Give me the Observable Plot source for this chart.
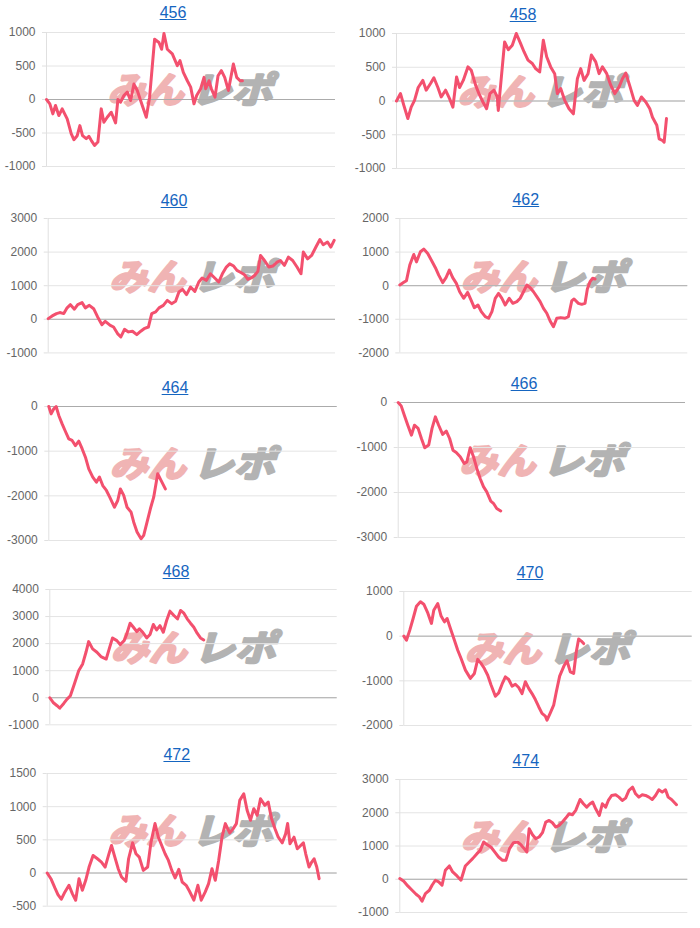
<!DOCTYPE html>
<html>
<head>
<meta charset="utf-8">
<script src="https://cdn.jsdelivr.net/npm/d3@7"></script>
<script src="https://cdn.jsdelivr.net/npm/@observablehq/plot@0.6"></script>
<style>
  html, body { margin: 0; padding: 0; background: #fff; }
  #root { position: relative; width: 700px; height: 928px; overflow: hidden; background: #fff; }
  .ttl { position: absolute; transform: translate(-50%, -50%); font: 16px "Liberation Sans", Arial, Helvetica, sans-serif;
         color: #1565c0; text-decoration: underline; line-height: 1; white-space: nowrap; }
  .pl { position: absolute; }
</style>
</head>
<body>
<div id="root"></div>
<script>
// Machine numbers (panel titles)
const machines = ["456", "458", "460", "462", "464", "466", "468", "470", "472", "474"];

// x = game progress (arbitrary units, full run = 866), v = coin difference
const g456 = [0,10,19,27,37,47,62,74,82,92,100,108,119,127,134,144,154,164,172,182,194,207,214,222,232,242,252,262,272,287,299,309,324,337,345,352,362,377,384,392,400,410,422,432,442,450,462,472,477,487,494,505,514,524,534,545,560,570,580,587];
const v456 = [0,-65,-215,-90,-240,-140,-290,-510,-600,-540,-390,-540,-585,-550,-610,-685,-635,-140,-340,-265,-190,-350,0,-40,60,110,-15,230,135,-90,-265,35,900,850,750,985,750,680,600,505,580,405,280,185,-65,60,160,330,160,280,160,35,355,430,330,135,530,330,280,280];

const g458 = [0,12,22,34,44,54,65,79,89,102,112,124,134,147,159,169,180,189,200,214,224,237,247,259,270,280,292,302,305,324,335,347,359,372,382,394,407,417,429,440,450,462,474,482,492,504,517,530,542,552,562,574,584,597,607,617,630,642,654,667,677,687,700,712,722,734,747,759,767,780,787,797,802,809];
const v458 = [0,110,-65,-260,-90,10,200,305,160,260,345,200,60,160,35,-90,355,200,305,505,455,235,110,-15,-115,110,160,60,-140,875,760,825,1000,850,730,605,555,480,430,900,655,505,405,110,185,10,-115,-190,330,480,305,405,680,580,405,505,405,235,110,210,330,415,210,10,-65,60,-15,-115,-240,-360,-560,-585,-610,-260];

const g460 = [0,12,25,35,47,57,67,79,89,102,112,124,137,149,162,172,187,197,209,219,230,242,254,267,279,289,302,312,324,334,347,359,372,384,394,405,417,429,442,454,464,477,489,502,514,525,537,547,559,569,582,592,602,612,622,632,640,652,665,677,690,700,712,724,737,750,762,769,782,794,807,819,829,842,852,862];
const v460 = [20,100,170,200,170,340,435,300,435,495,340,415,315,70,-160,-60,-180,-230,-425,-525,-300,-375,-355,-455,-355,-280,-230,170,220,340,415,565,465,535,810,890,735,960,830,1110,1230,1160,1355,1230,1110,1355,1555,1650,1585,1455,1385,1325,1190,1230,1305,1425,1900,1750,1555,1585,1700,1750,1605,1850,1750,1555,1355,2000,1800,1900,2150,2375,2220,2300,2150,2350];

const g462 = [0,12,20,30,42,50,62,72,84,95,107,117,129,139,149,159,170,180,192,204,214,224,235,245,257,267,277,287,297,307,317,329,340,352,362,372,382,392,402,412,422,432,442,452,462,472,484,497,507,517,524,537,547,557,564,572,580,587];
const v462 = [20,100,150,615,930,710,1010,1090,960,760,535,315,90,240,465,240,70,-180,-375,-200,-425,-655,-575,-770,-920,-970,-770,-375,-230,-375,-575,-375,-525,-475,-375,-180,20,-60,-180,-325,-475,-675,-820,-1050,-1220,-970,-950,-970,-920,-455,-395,-525,-555,-525,-100,120,220,200];

const g464 = [0,7,15,22,30,40,50,60,70,80,90,100,110,120,132,143,152,162,173,183,197,207,215,225,235,247,255,265,277,285,295,305,315,327,337,350];
const v464 = [0,-165,-50,0,-200,-390,-560,-725,-760,-875,-775,-945,-1135,-1395,-1580,-1695,-1580,-1770,-1880,-2030,-2255,-2105,-1845,-1990,-2255,-2365,-2590,-2810,-2960,-2885,-2590,-2290,-2030,-1505,-1655,-1845];

const g466 = [0,9,19,29,40,49,60,70,80,92,102,112,122,134,145,155,165,175,187,199,207,217,227,237,247,257,267,279,287,297,309];
const v466 = [0,-75,-295,-505,-725,-505,-575,-800,-1005,-945,-575,-320,-505,-710,-635,-800,-1060,-1110,-1205,-1355,-1320,-1005,-1205,-1465,-1690,-1870,-1985,-2190,-2240,-2355,-2410];

const g468 = [0,10,22,30,42,52,62,74,87,99,109,117,129,142,154,170,179,189,202,212,224,232,242,252,262,270,280,292,302,312,322,332,342,352,362,374,385,394,404,414,424,434,444,454,464];
const v468 = [0,-175,-295,-385,-210,-50,75,505,1000,1250,1680,2075,1805,1680,1520,1430,1805,2210,2110,1965,2110,2360,2755,2605,2445,2545,2420,2210,2335,2705,2505,2665,2420,2855,3200,3040,2915,3225,3125,2915,2755,2605,2385,2210,2135];

const g470 = [0,8,18,28,38,50,60,72,83,90,102,112,122,130,140,152,162,172,185,200,212,222,232,242,252,262,275,285,295,305,315,325,335,345,355,365,375,385,395,405,415,425,430,440,450,458,468,482,490,500,510,518,525,533,540];
const v470 = [0,-90,135,395,670,770,715,520,285,580,730,450,320,395,170,-90,-315,-500,-760,-945,-835,-520,-610,-725,-875,-1095,-1345,-1270,-1075,-910,-970,-1120,-1075,-1150,-1285,-1020,-1170,-1285,-1420,-1580,-1730,-1790,-1880,-1715,-1545,-1245,-895,-650,-550,-800,-835,-350,-65,-110,-165];

const g472 = [0,12,23,32,42,53,65,75,85,95,105,115,125,137,150,162,173,183,192,202,212,222,235,243,255,265,275,287,300,310,322,332,342,352,362,372,382,393,403,415,425,438,450,460,472,482,492,502,512,522,532,545,555,565,575,587,597,607,617,627,637,650,660,670,680,690,702,712,718,725,737,747,757,765,772,782,790,797,805,812];
const v472 = [0,-95,-225,-325,-395,-285,-185,-310,-410,-85,-260,-110,90,265,215,165,90,265,415,240,65,-60,-125,215,455,290,240,40,90,465,745,540,415,290,190,40,-75,55,-135,-185,-275,-410,-185,-410,-285,-160,65,-110,190,540,745,605,665,745,1095,1195,945,795,970,870,1120,1020,1070,820,670,540,455,590,745,440,540,365,415,455,290,90,165,215,90,-85];

const g474 = [0,12,24,37,49,59,67,77,89,97,107,117,127,137,149,159,172,184,197,209,219,232,242,252,262,274,287,297,309,319,330,342,354,364,374,382,389,399,409,419,429,439,449,459,469,479,489,499,509,519,529,542,552,562,572,580,589,600,609,619,627,637,649,659,669,679,689,700,709,719,729,739,749,759,769,779,789,799,807,817,832];
const v474 = [20,-60,-200,-330,-450,-530,-660,-430,-330,-180,-30,-80,-180,270,400,220,100,-30,400,520,620,770,870,1120,1040,970,800,670,570,570,920,1100,1120,1040,920,820,1520,1340,1220,1270,1400,1720,1770,1700,1570,1620,1720,1840,1970,1940,2070,2400,2270,2170,2270,2320,2120,1920,2270,2170,2370,2520,2540,2470,2370,2440,2670,2770,2570,2470,2540,2520,2470,2400,2520,2690,2620,2690,2470,2400,2240];

// y tick values per panel
const t456 = [-1000, -500, 0, 500, 1000];
const t458 = [-1000, -500, 0, 500, 1000];
const t460 = [-1000, 0, 1000, 2000, 3000];
const t462 = [-2000, -1000, 0, 1000, 2000];
const t464 = [-3000, -2000, -1000, 0];
const t466 = [-3000, -2000, -1000, 0];
const t468 = [-1000, 0, 1000, 2000, 3000, 4000];
const t470 = [-2000, -1000, 0, 1000];
const t472 = [-500, 0, 500, 1000, 1500];
const t474 = [-1000, 0, 1000, 2000, 3000];

const watermarkA = "みん";
const watermarkB = "レポ";

// layout (pixel placement of each panel)
const layout = [
  {col:0, top:32,    bot:166,   L:46,    R:335,   tx:173,   ty:13,    g:g456, v:v456, t:t456},
  {col:1, top:33.3,  bot:168.3, L:396,   R:685,   tx:523,   ty:15,    g:g458, v:v458, t:t458},
  {col:0, top:218.3, bot:352.7, L:47.7,  R:335,   tx:174,   ty:201,   g:g460, v:v460, t:t460},
  {col:1, top:218.3, bot:352.7, L:399.3, R:687.3, tx:525.8, ty:200,   g:g462, v:v462, t:t462},
  {col:0, top:406,   bot:540,   L:48.3,  R:336.7, tx:175,   ty:387.7, g:g464, v:v464, t:t464},
  {col:1, top:402.3, bot:537.3, L:397.7, R:685,   tx:524,   ty:384.3, g:g466, v:v466, t:t466},
  {col:0, top:589,   bot:724.3, L:49.3,  R:336.7, tx:176,   ty:571.7, g:g468, v:v468, t:t468},
  {col:1, top:591,   bot:725,   L:403.3, R:691.7, tx:530,   ty:572.7, g:g470, v:v470, t:t470},
  {col:0, top:773.3, bot:906,   L:46.7,  R:336.7, tx:176.8, ty:755,   g:g472, v:v472, t:t472},
  {col:1, top:779.3, bot:912.3, L:399.3, R:687.3, tx:525.8, ty:760.7, g:g474, v:v474, t:t474}
];

const root = document.getElementById("root");
const NS = "http://www.w3.org/2000/svg";

// watermark layer (behind the charts)
const wm = document.createElementNS(NS, "svg");
wm.setAttribute("width", 700); wm.setAttribute("height", 928);
wm.style.position = "absolute"; wm.style.left = "0"; wm.style.top = "0";
layout.forEach(p => {
  const cy = (p.top + p.bot) / 2 - 12;
  const parts = [
    {txt: watermarkA, x: p.L + 61.5, w: 76, fill: "#f0b4b4"},
    {txt: watermarkB, x: p.L + 144.5, w: 82, fill: "#b3b3b3"}
  ];
  parts.forEach(q => {
    const t = document.createElementNS(NS, "text");
    t.setAttribute("x", q.x); t.setAttribute("y", cy);
    t.setAttribute("dominant-baseline", "central");
    t.setAttribute("textLength", q.w);
    t.setAttribute("lengthAdjust", "spacingAndGlyphs");
    t.setAttribute("fill", q.fill);
    t.setAttribute("stroke", q.fill);
    t.setAttribute("stroke-width", "2.5");
    t.setAttribute("stroke-linejoin", "round");
    t.setAttribute("font-family", "'Noto Sans CJK JP', sans-serif");
    t.setAttribute("font-weight", "bold");
    t.setAttribute("font-style", "italic");
    t.setAttribute("font-size", "36");
    t.textContent = q.txt;
    wm.appendChild(t);
  });
});
root.appendChild(wm);

const mt = 10, mb = 10;
layout.forEach((p, i) => {
  const x0 = p.col * 350;
  const data = p.g.map((g, k) => ({g, v: p.v[k]}));
  const chart = Plot.plot({
    width: 350,
    height: (p.bot - p.top) + mt + mb,
    marginTop: mt,
    marginBottom: mb,
    marginLeft: p.L - x0,
    marginRight: x0 + 350 - p.R,
    style: {background: "transparent", fontFamily: "'Liberation Sans', Arial, Helvetica, sans-serif", fontSize: "12px", overflow: "visible"},
    x: {domain: [0, 866], axis: null},
    y: {domain: [p.t[0], p.t[p.t.length - 1]], axis: null},
    marks: [
      Plot.gridY(p.t, {stroke: "#e4e4e4", strokeOpacity: 1, strokeWidth: 1}),
      Plot.ruleY([0], {stroke: "#ababab", strokeWidth: 1}),
      Plot.ruleX([0], {stroke: "#e0e0e0", strokeWidth: 1}),
      Plot.axisY(p.t, {label: null, tickSize: 4, tickPadding: 7, stroke: "#e0e0e0", fill: "#666", fontSize: 12, tickFormat: d => String(d)}),
      Plot.line(data, {x: "g", y: "v", stroke: "#f3506e", strokeWidth: 3, strokeLinejoin: "round", strokeLinecap: "round"})
    ]
  });
  chart.classList.add("pl");
  chart.style.left = x0 + "px";
  chart.style.top = (p.top - mt) + "px";
  root.appendChild(chart);

  const a = document.createElement("a");
  a.className = "ttl";
  a.href = "#";
  a.textContent = machines[i];
  a.style.left = p.tx + "px";
  a.style.top = p.ty + "px";
  root.appendChild(a);
});
</script>
</body>
</html>
